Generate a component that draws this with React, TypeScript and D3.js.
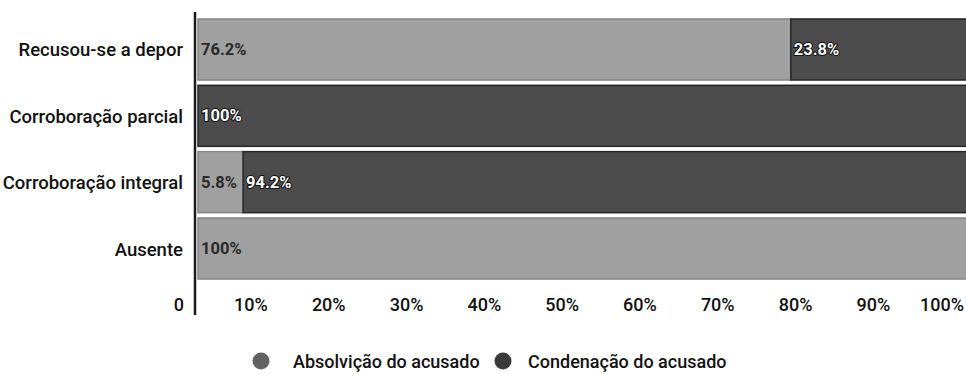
import React from "react";
import * as d3 from "d3";

const categories = ["Recusou-se a depor", "Corroboração parcial", "Corroboração integral", "Ausente"];
const seriesNames = ["Absolvição do acusado", "Condenação do acusado"];
const absolvicao = [76.2, 0, 5.8, 100];
const condenacao = [23.8, 100, 94.2, 0];
const tickValues = [0, 10, 20, 30, 40, 50, 60, 70, 80, 90, 100];
const tickLabels = ["0", "10%", "20%", "30%", "40%", "50%", "60%", "70%", "80%", "90%", "100%"];

const W = 966;
const H = 374;
const FONT = "Roboto, 'Noto Sans', sans-serif";
const fills = ["#a0a0a0", "#4c4c4c"];
const legendFills = ["#626262", "#3a3a3a"];
const labelFills = ["#2a2a2a", "#ffffff"];

export default function App() {
  const x = d3.scaleLinear().domain([0, 100]).range([198, 976]);
  const y = d3.scaleBand<string>().domain(categories).range([16, 282]).paddingInner(0.08).paddingOuter(0.045);

  const rows = categories.map((c, i) => {
    const vals = [absolvicao[i], condenacao[i]];
    let acc = 0;
    return vals.map((v, s) => {
      const seg = { cat: c, s, v, x0: acc, x1: acc + v };
      acc += v;
      return seg;
    });
  });

  const segs = rows.flat().filter((d) => d.v > 0);

  const legendItems = [
    { cx: 261, tx: 293 },
    { cx: 503, tx: 528 },
  ];

  return (
    <svg width={W} height={H} style={{ position: "absolute", left: 0, top: 0, background: "#fff" }}>
      <g>
        {segs.map((d, i) => (
          <rect
            key={"b" + i}
            x={x(d.x0)}
            y={y(d.cat)!}
            width={x(d.x1) - x(d.x0)}
            height={y.bandwidth()}
            fill={fills[d.s]}
            stroke={d.s === 1 ? "#262626" : "#858585"}
            strokeWidth={1.5}
          />
        ))}
        {segs.map((d, i) => (
          <text
            key={"l" + i}
            x={x(d.x0) + 3}
            y={y(d.cat)! + y.bandwidth() / 2}
            dominantBaseline="central"
            fontFamily={FONT}
            fontSize={16.5}
            fontWeight={700}
            fill={labelFills[d.s]}
            stroke={d.s === 1 ? "#111" : "none"}
            strokeWidth={2}
            paintOrder="stroke"
          >
            {`${d.v}%`}
          </text>
        ))}
      </g>
      <g>
        {categories.map((c) => (
          <text
            key={c}
            x={183}
            y={y(c)! + y.bandwidth() / 2 + 1}
            textAnchor="end"
            dominantBaseline="central"
            fontFamily={FONT}
            fontSize={18.5}
            fontWeight={500}
            fill="#111"
          >
            {c}
          </text>
        ))}
      </g>
      <line x1={195} x2={195} y1={12} y2={315} stroke="#1a1a1a" strokeWidth={2.5} />
      <g>
        {tickValues.map((v, i) => (
          <text
            key={v}
            x={v === 0 ? 184 : Math.min(x(v) - 8, 964)}
            y={304}
            textAnchor="end"
            dominantBaseline="central"
            fontFamily={FONT}
            fontSize={18}
            fontWeight={500}
            fill="#111"
          >
            {tickLabels[i]}
          </text>
        ))}
      </g>
      <g>
        {seriesNames.map((n, i) => (
          <g key={n}>
            <circle cx={legendItems[i].cx} cy={361} r={8.5} fill={legendFills[i]} />
            <text
              x={legendItems[i].tx}
              y={361}
              dominantBaseline="central"
              fontFamily={FONT}
              fontSize={18}
              fontWeight={500}
              fill="#111"
            >
              {n}
            </text>
          </g>
        ))}
      </g>
    </svg>
  );
}
